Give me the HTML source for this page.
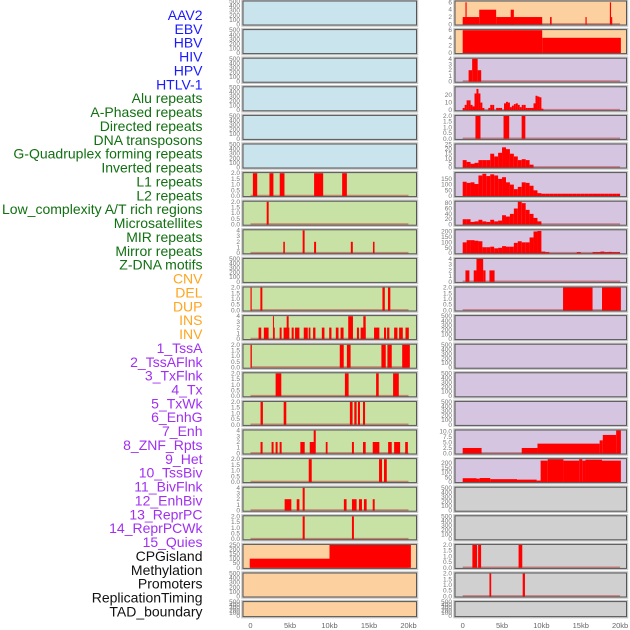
<!DOCTYPE html>
<html><head><meta charset="utf-8">
<style>
html,body{margin:0;padding:0;background:#fff;width:630px;height:630px;overflow:hidden}
svg{display:block}
</style></head>
<body>
<svg id="chart" width="630" height="630" xmlns="http://www.w3.org/2000/svg"></svg>
<script>
// ---------- labels ----------
const labels = ["AAV2","EBV","HBV","HIV","HPV","HTLV-1","Alu repeats","A-Phased repeats","Directed repeats","DNA transposons","G-Quadruplex forming repeats","Inverted repeats","L1 repeats","L2 repeats","Low_complexity A/T rich regions","Microsatellites","MIR repeats","Mirror repeats","Z-DNA motifs","CNV","DEL","DUP","INS","INV","1_TssA","2_TssAFlnk","3_TxFlnk","4_Tx","5_TxWk","6_EnhG","7_Enh","8_ZNF_Rpts","9_Het","10_TssBiv","11_BivFlnk","12_EnhBiv","13_ReprPC","14_ReprPCWk","15_Quies","CPGisland","Methylation","Promoters","ReplicationTiming","TAD_boundary"];
const labelGroups = ["virus","virus","virus","virus","virus","virus","repeat","repeat","repeat","repeat","repeat","repeat","repeat","repeat","repeat","repeat","repeat","repeat","repeat","sv","sv","sv","sv","sv","chrom","chrom","chrom","chrom","chrom","chrom","chrom","chrom","chrom","chrom","chrom","chrom","chrom","chrom","chrom","other","other","other","other","other"];
const xTickValues = [0,5,10,15,20];
const xTickLabels = ["0","5kb","10kb","15kb","20kb"];

// ---------- data (segments: [startKb, endKb, value]) ----------
const aluSeg = [[0.3,0.85,2],[2.4,2.9,2],[3.7,4.3,2],[8.05,9.2,2],[11.6,12.2,2]];
const aPhasedSeg = [[2.05,2.3,2]];
const directedSeg = [[4.15,4.35,2],[6.6,6.85,4],[8.05,8.3,2],[12.7,12.95,2],[15.5,15.7,2]];
const gquadSeg = [[0,0.15,2],[1.25,1.5,2],[16.7,17.0,2],[17.4,17.7,2]];
const invertedSeg = [[1.02,1.36,2],[1.69,2.29,2],[2.84,2.97,4],[2.97,3.05,2],[3.69,3.94,2],[4.19,4.92,2],[4.58,4.83,4],[5.21,5.47,2],[5.64,6.19,2],[6.74,7.25,2],[7.37,7.58,2],[7.92,8.22,2],[9.03,9.36,2],[9.96,10.25,2],[10.8,11.14,2],[11.4,11.78,2],[12.37,12.97,4],[13.47,13.73,2],[13.94,14.58,2],[14.28,14.58,4],[15.64,16.31,2],[16.9,17.16,2],[17.29,17.58,2],[18.18,18.6,2],[18.81,19.28,2],[19.62,20.04,2]];
const l1Seg = [[0,0.17,2],[11.3,11.8,2],[12.2,12.67,2],[16.57,17.12,2],[17.33,17.88,2],[19.2,20.17,2]];
const l2Seg = [[3.18,3.9,2],[11.95,12.42,2],[15.9,16.23,2],[18.05,18.77,2]];
const lowCompSeg = [[1.27,1.57,2],[4.2,4.53,2],[12.58,12.92,2],[13.14,13.43,2],[13.6,13.86,2],[14.24,14.5,2]];
const microSeg = [[1.27,1.53,2],[2.67,2.92,2],[3.18,3.43,2],[3.69,3.94,2],[6.31,6.86,2],[7.5,8.14,2],[8.0,8.26,4],[9.53,9.75,2],[12.84,13.09,2],[14.24,14.58,2],[15.47,16.31,2],[17.42,17.88,2],[18.18,18.94,2],[19.58,19.92,2]];
const mirSeg = [[7.37,7.75,2],[16.27,16.65,2],[16.9,17.25,2]];
const mirrorSeg = [[4.32,5.17,2],[5.85,6.19,2],[6.6,6.86,4],[11.82,12.16,2],[12.84,13.43,2],[13.73,14.11,2],[14.36,14.7,2],[15.47,15.72,2]];
const zdnaSeg = [[6.6,6.86,2],[12.84,13.09,2]];
const cnvSeg = [[-0.1,10.0,100],[10.0,20.3,250]];
const insSeg = [[0,2.1,2],[0.35,0.5,6],[2.1,4.25,4],[4.25,10.1,2],[6.1,6.5,4],[11.1,11.3,2],[15.6,15.75,2],[18.7,18.85,6],[18.85,19.0,2]];
const invSeg = [[0,10.1,6],[10.1,20.1,4]];
const tssASeg = [[0.75,1.2,2],[1.2,1.9,4],[1.9,2.35,2]];
const tssAFlnkBins = [3,7,13,13,7,5,22,28,22,10,3,0,0,3,7,7,0,3,3,3,0,9,11,10,4,6,8,9,7,4,7,7,3,3,3,3,9,19,18,17,2];
const txFlnkSeg = [[1.62,2.26,2],[5.19,5.91,2],[7.49,7.96,2]];
const txBins = [8,6,4,5,8,8,8,15,12,16,22,20,15,12,8,9,8,3];
const txWkBins = [125,115,120,105,180,195,175,190,180,150,165,120,100,60,80,120,115,90,50,25,20,20,20,20,20,20,20,20,20,20,20,20,20,20,20,20,20,20,20,20];
const enhGBins = [20,20,10,12,18,12,10,18,12,15,35,30,40,60,85,80,55,40,25,12];
const enhBins = [100,120,120,115,110,55,55,60,45,50,65,60,60,95,110,100,100,145,200,205,15,10,0,0,0,0,0,0,0,10,0,0,0,10,10,15,10,12,10,10];
const znfSeg = [[0.35,0.85,2],[1.4,1.75,2],[1.75,2.6,4],[2.6,2.9,2],[3.4,4.05,2]];
const hetSeg = [[12.75,16.5,2],[17.7,20.1,2]];
const reprPCWkSeg = [[0,2.4,2.5],[7.5,9.5,2.5],[9.5,17.4,4.5],[17.4,17.8,6],[17.8,19.5,8.5],[19.5,20.1,10.5]];
const quiesSeg = [[0,1.75,40],[1.75,2.15,35],[2.15,3.5,42],[3.5,6.9,30],[6.9,9.4,25],[9.4,9.9,15],[9.9,10.8,225],[10.8,12.8,240],[12.8,14.8,225],[14.8,15.2,240],[15.2,15.6,225],[15.6,17.7,235],[17.7,20.1,225]];
const promotersSeg = [[1.23,1.83,2],[1.96,2.34,2],[7.1,7.57,2]];
const replSeg = [[3.4,3.62,2],[7.62,7.91,2]];

// tick label sets
const t500 = ["0","100","200","300","400","500"];
const t2 = ["0.0","0.5","1.0","1.5","2.0"];
const t4 = ["0","1","2","3","4"];

// panel list: [col,row,bgKey,ymax,tickVals,tickLabels,segments,bins,binKb]
const panels = [
 [0,0,"virus",500,[0,100,200,300,400,500],t500,null,null,0],
 [0,1,"virus",500,[0,100,200,300,400,500],t500,null,null,0],
 [0,2,"virus",500,[0,100,200,300,400,500],t500,null,null,0],
 [0,3,"virus",500,[0,100,200,300,400,500],t500,null,null,0],
 [0,4,"virus",500,[0,100,200,300,400,500],t500,null,null,0],
 [0,5,"virus",500,[0,100,200,300,400,500],t500,null,null,0],
 [0,6,"repeat",2,[0,0.5,1,1.5,2],t2,aluSeg,null,0],
 [0,7,"repeat",2,[0,0.5,1,1.5,2],t2,aPhasedSeg,null,0],
 [0,8,"repeat",4,[0,1,2,3,4],t4,directedSeg,null,0],
 [0,9,"repeat",500,[0,100,200,300,400,500],t500,null,null,0],
 [0,10,"repeat",2,[0,0.5,1,1.5,2],t2,gquadSeg,null,0],
 [0,11,"repeat",4,[0,1,2,3,4],t4,invertedSeg,null,0],
 [0,12,"repeat",2,[0,0.5,1,1.5,2],t2,l1Seg,null,0],
 [0,13,"repeat",2,[0,0.5,1,1.5,2],t2,l2Seg,null,0],
 [0,14,"repeat",2,[0,0.5,1,1.5,2],t2,lowCompSeg,null,0],
 [0,15,"repeat",4,[0,1,2,3,4],t4,microSeg,null,0],
 [0,16,"repeat",2,[0,0.5,1,1.5,2],t2,mirSeg,null,0],
 [0,17,"repeat",4,[0,1,2,3,4],t4,mirrorSeg,null,0],
 [0,18,"repeat",2,[0,0.5,1,1.5,2],t2,zdnaSeg,null,0],
 [0,19,"sv",250,[0,50,100,150,200,250],["0","50","100","150","200","250"],cnvSeg,null,0],
 [0,20,"sv",500,[0,100,200,300,400,500],t500,null,null,0],
 [0,21,"sv",500,[0,100,200,300,400,500],t500,null,null,0],
 [1,0,"sv",6.2,[0,2,4,6],["0","2","4","6"],insSeg,null,0],
 [1,1,"sv",6,[0,2,4,6],["0","2","4","6"],invSeg,null,0],
 [1,2,"chrom",4,[0,1,2,3,4],t4,tssASeg,null,0],
 [1,3,"chrom",30,[0,10,20],["0","10","20"],null,tssAFlnkBins,0.25],
 [1,4,"chrom",2,[0,0.5,1,1.5,2],t2,txFlnkSeg,null,0],
 [1,5,"chrom",25,[0,5,10,15,20,25],["0","5","10","15","20","25"],null,txBins,0.5],
 [1,6,"chrom",200,[0,50,100,150],["0","50","100","150"],null,txWkBins,0.5],
 [1,7,"chrom",85,[0,20,40,60,80],["0","20","40","60","80"],null,enhGBins,0.5],
 [1,8,"chrom",210,[0,50,100,150,200],["0","50","100","150","200"],null,enhBins,0.5],
 [1,9,"chrom",4,[0,1,2,3,4],t4,znfSeg,null,0],
 [1,10,"chrom",2,[0,0.5,1,1.5,2],t2,hetSeg,null,0],
 [1,11,"chrom",500,[0,100,200,300,400,500],t500,null,null,0],
 [1,12,"chrom",500,[0,100,200,300,400,500],t500,null,null,0],
 [1,13,"chrom",500,[0,100,200,300,400,500],t500,null,null,0],
 [1,14,"chrom",500,[0,100,200,300,400,500],t500,null,null,0],
 [1,15,"chrom",10.5,[0,2.5,5,7.5,10],["0.0","2.5","5.0","7.5","10.0"],reprPCWkSeg,null,0],
 [1,16,"chrom",240,[0,50,100,150,200],["0","50","100","150","200"],quiesSeg,null,0],
 [1,17,"other",500,[0,100,200,300,400,500],t500,null,null,0],
 [1,18,"other",500,[0,100,200,300,400,500],t500,null,null,0],
 [1,19,"other",2,[0,0.5,1,1.5,2],t2,promotersSeg,null,0],
 [1,20,"other",2,[0,0.5,1,1.5,2],t2,replSeg,null,0],
 [1,21,"other",500,[0,100,200,300,400,500],t500,null,null,0]
];

// ---------- layout ----------
const NS="http://www.w3.org/2000/svg";
const svg=document.getElementById('chart');
const labelColor={virus:"#1a1aff",repeat:"#117011",sv:"#ffa520",chrom:"#a030f0",other:"#111"};
const bgColor=[{virus:"#c9e4ec",repeat:"#c8e1a5",sv:"#fdd09f"},{sv:"#fdd09f",chrom:"#d6c5e1",other:"#d0d0d0"}];
const colLeft=[243,455], colRight=[416.5,626.5];
const colX0=[250.5,462.7], kbPx=[7.9,7.87];
function rowTop(r){return 1+28.6*r;}
function rowH(r){return r===21?15:24;}
function xScale(c,kb){return colX0[c]+kb*kbPx[c];}
function yScale(r,v,ymax){const t=rowTop(r),h=rowH(r);return t+h-0.6-(v/ymax)*(h-1.2);}
function mk(tag,attrs,parent){const e=document.createElementNS(NS,tag);for(const k in attrs)e.setAttribute(k,attrs[k]);(parent||svg).appendChild(e);return e;}

// labels
labels.forEach((lab,i)=>{
  const t=mk('text',{x:202.5,y:15+13.87*i+5,'text-anchor':'end','font-family':'Liberation Sans, sans-serif','font-size':'14',fill:labelColor[labelGroups[i]]});
  t.textContent=lab;
  
  
});

// panels
panels.forEach((p)=>{
  const [c,r,bg,ymax,tv,tl,segs,bins,binKb]=p;
  const g=mk('g',{});
  const li=c*22+r;
  
  
  const top=rowTop(r),h=rowH(r);
  mk('rect',{x:colLeft[c]-1,y:top-1,width:colRight[c]-colLeft[c]+2,height:h+2,fill:'none',stroke:'#c8c8c8','stroke-width':1.5},g);
  const bgr=mk('rect',{x:colLeft[c],y:top,width:colRight[c]-colLeft[c],height:h,fill:bgColor[c][bg]},g);
  
  
  let list=[];
  if(segs) list=segs;
  if(bins) list=bins.map((v,i)=>[i*binKb,(i+1)*binKb,v]);
  if(list.length){
    mk('line',{x1:xScale(c,0),x2:xScale(c,20),y1:yScale(r,0,ymax)-0.5,y2:yScale(r,0,ymax)-0.5,stroke:'rgba(190,60,60,0.55)','stroke-width':1.6},g);
  }
  list.forEach(s=>{
    if(s[2]<=0) return;
    const x1=xScale(c,s[0]),x2=xScale(c,s[1]);
    const y=yScale(r,s[2],ymax),y0=yScale(r,0,ymax);
    const b=mk('rect',{x:x1,y:y,width:Math.max(0.8,x2-x1),height:Math.max(0,y0-y),fill:'#ff0000'},g);
    
    
  });
  mk('rect',{x:colLeft[c],y:top,width:colRight[c]-colLeft[c],height:h,fill:'none',stroke:'#555','stroke-width':1},g);
  tv.forEach((v,i)=>{
    const t=mk('text',{x:colLeft[c]-3,y:yScale(r,v,ymax)+2,'text-anchor':'end','font-family':'Liberation Sans, sans-serif','font-size':'6.5',fill:'#777'},g);
    t.textContent=tl[i];
    
    
  });
});

// x axes
[0,1].forEach(c=>{
  xTickValues.forEach((v,i)=>{
    const t=mk('text',{x:xScale(c,v),y:628,'text-anchor':'middle','font-family':'Liberation Sans, sans-serif','font-size':'7.5',fill:'#666'});
    t.textContent=xTickLabels[i];
    
    
  });
});
</script>
</body></html>
